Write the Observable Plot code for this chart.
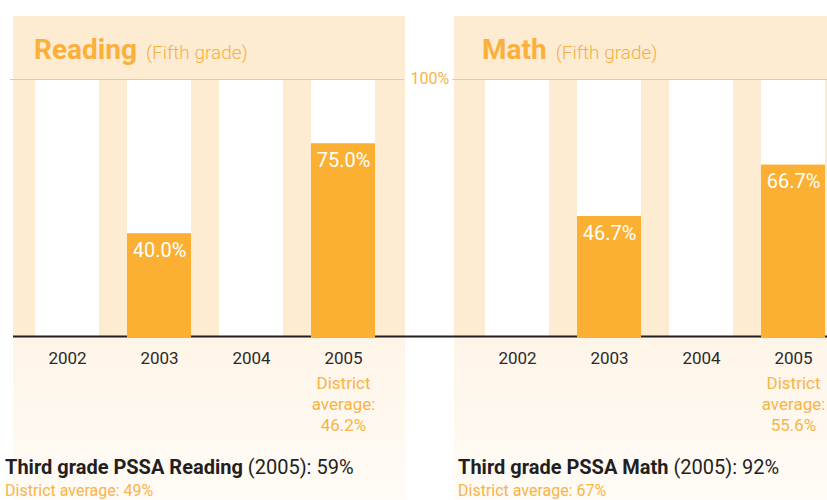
<!DOCTYPE html>
<html>
<head>
<meta charset="utf-8">
<script src="https://cdn.jsdelivr.net/npm/d3@7"></script>
<script src="https://cdn.jsdelivr.net/npm/@observablehq/plot@0.6"></script>
<style>
  html, body { margin: 0; padding: 0; background: #fff; overflow: hidden; }
  #wrap { position: relative; width: 827px; height: 500px; overflow: hidden; font-family: Roboto, sans-serif; }
  .panel { position: absolute; top: 16px; height: 484px;
    background: linear-gradient(to bottom, #fdebd2 0px, #fdebd2 320px, #fef5e8 321px, #fffbf6 484px); }
  .chart { position: absolute; top: 0; }
  .head { position: absolute; top: 36px; line-height: 28px; white-space: nowrap; color: #fbb03b; }
  .head b { font-size: 28px; font-weight: 700; }
  .head span { font-size: 19px; font-weight: 300; color: #f8b03f; margin-left: 9px; }
  .third { position: absolute; top: 457px; font-size: 20px; line-height: 20px; color: #231f20; white-space: nowrap; }
  .third b { font-weight: 700; }
  .third span { font-weight: 400; }
  .dist { position: absolute; top: 483px; font-size: 16px; line-height: 16px; font-weight: 400; color: #f8b445; white-space: nowrap; }
</style>
</head>
<body>
<div id="wrap">
  <div class="panel" style="left:13px;width:392px"></div>
  <div class="panel" style="left:454px;width:400px"></div>
  <div class="chart" id="c0" style="left:0px;width:450px"></div>
  <div class="chart" id="c1" style="left:450px;width:430px"></div>
  <div class="head" id="h0" style="left:34px"></div>
  <div class="head" id="h1" style="left:482px"></div>
  <div class="third" id="t0" style="left:5px"></div>
  <div class="third" id="t1" style="left:458px"></div>
  <div class="dist" id="d0" style="left:5px"></div>
  <div class="dist" id="d1" style="left:458px"></div>
</div>
<script>
const years = ["2002", "2003", "2004", "2005"];
const subjects = ["Reading", "Math"];
const gradeNote = "Fifth grade";
const readingScores = [null, 40.0, null, 75.0];
const mathScores = [null, 46.7, null, 66.7];
const districtAverages2005 = [46.2, 55.6];
const thirdGradeScores = [59, 92];
const thirdGradeDistrict = [49, 67];
const thirdGradeYear = "2005";

const orange = "#fbb034";
const fmt = d3.format(".1f");

function chart(scores, district, idx) {
  const rows = years.map((year, i) => ({year, value: scores[i]}));
  const bars = rows.filter(d => d.value != null);
  const isLeft = idx === 0;
  return Plot.plot({
    width: isLeft ? 450 : 430,
    height: 440,
    marginTop: 79,
    marginBottom: 104,
    marginLeft: 7,
    marginRight: isLeft ? 46 : 26,
    style: {background: "transparent", fontFamily: "Roboto, sans-serif", fontSize: "17px", fontWeight: 400, color: "#2a2a2a", overflow: "visible"},
    x: {domain: years, padding: 0.3, tickSize: 0, tickPadding: 15, label: null},
    y: {domain: [0, 100], axis: null},
    marks: [
      Plot.barY(rows, {x: "year", y1: 0, y2: 100, fill: "#ffffff"}),
      Plot.ruleY([100], {stroke: "#fbc57a", strokeWidth: 1, insetLeft: isLeft ? 3 : -5}),
      Plot.ruleY([0], {stroke: "#231f20", strokeWidth: 2, insetLeft: isLeft ? 6 : -7, insetRight: isLeft ? -46 : -60}),
      Plot.barY(bars, {x: "year", y: "value", fill: orange, insetBottom: -2}),
      Plot.text(bars, {x: "year", y: "value", text: d => fmt(d.value) + "%", fill: "#ffffff", fontSize: 20, fontWeight: 400, lineAnchor: "top", dy: 9}),
      Plot.text([{year: years[years.length - 1], district}], {
        x: "year", frameAnchor: "bottom", text: d => `District\naverage:\n${fmt(d.district)}%`,
        fill: "#f8b445", fontSize: 17, fontWeight: 400, lineAnchor: "top", lineHeight: 1.25, dy: 37
      }),
      ...(isLeft ? [Plot.text(["100%"], {y: [100], frameAnchor: "right", text: d => d, textAnchor: "start", dx: 6, fill: "#f8b445", fontSize: 16, fontWeight: 400, lineAnchor: "middle", dy: -1})] : [])
    ]
  });
}

const allScores = [readingScores, mathScores];
subjects.forEach((s, i) => {
  document.getElementById("c" + i).append(chart(allScores[i], districtAverages2005[i], i));
  document.getElementById("h" + i).innerHTML = `<b>${s}</b><span>(${gradeNote})</span>`;
  document.getElementById("t" + i).innerHTML = `<b>Third grade PSSA ${s}</b> <span>(${thirdGradeYear}): ${thirdGradeScores[i]}%</span>`;
  document.getElementById("d" + i).textContent = `District average: ${thirdGradeDistrict[i]}%`;
});
</script>
</body>
</html>
